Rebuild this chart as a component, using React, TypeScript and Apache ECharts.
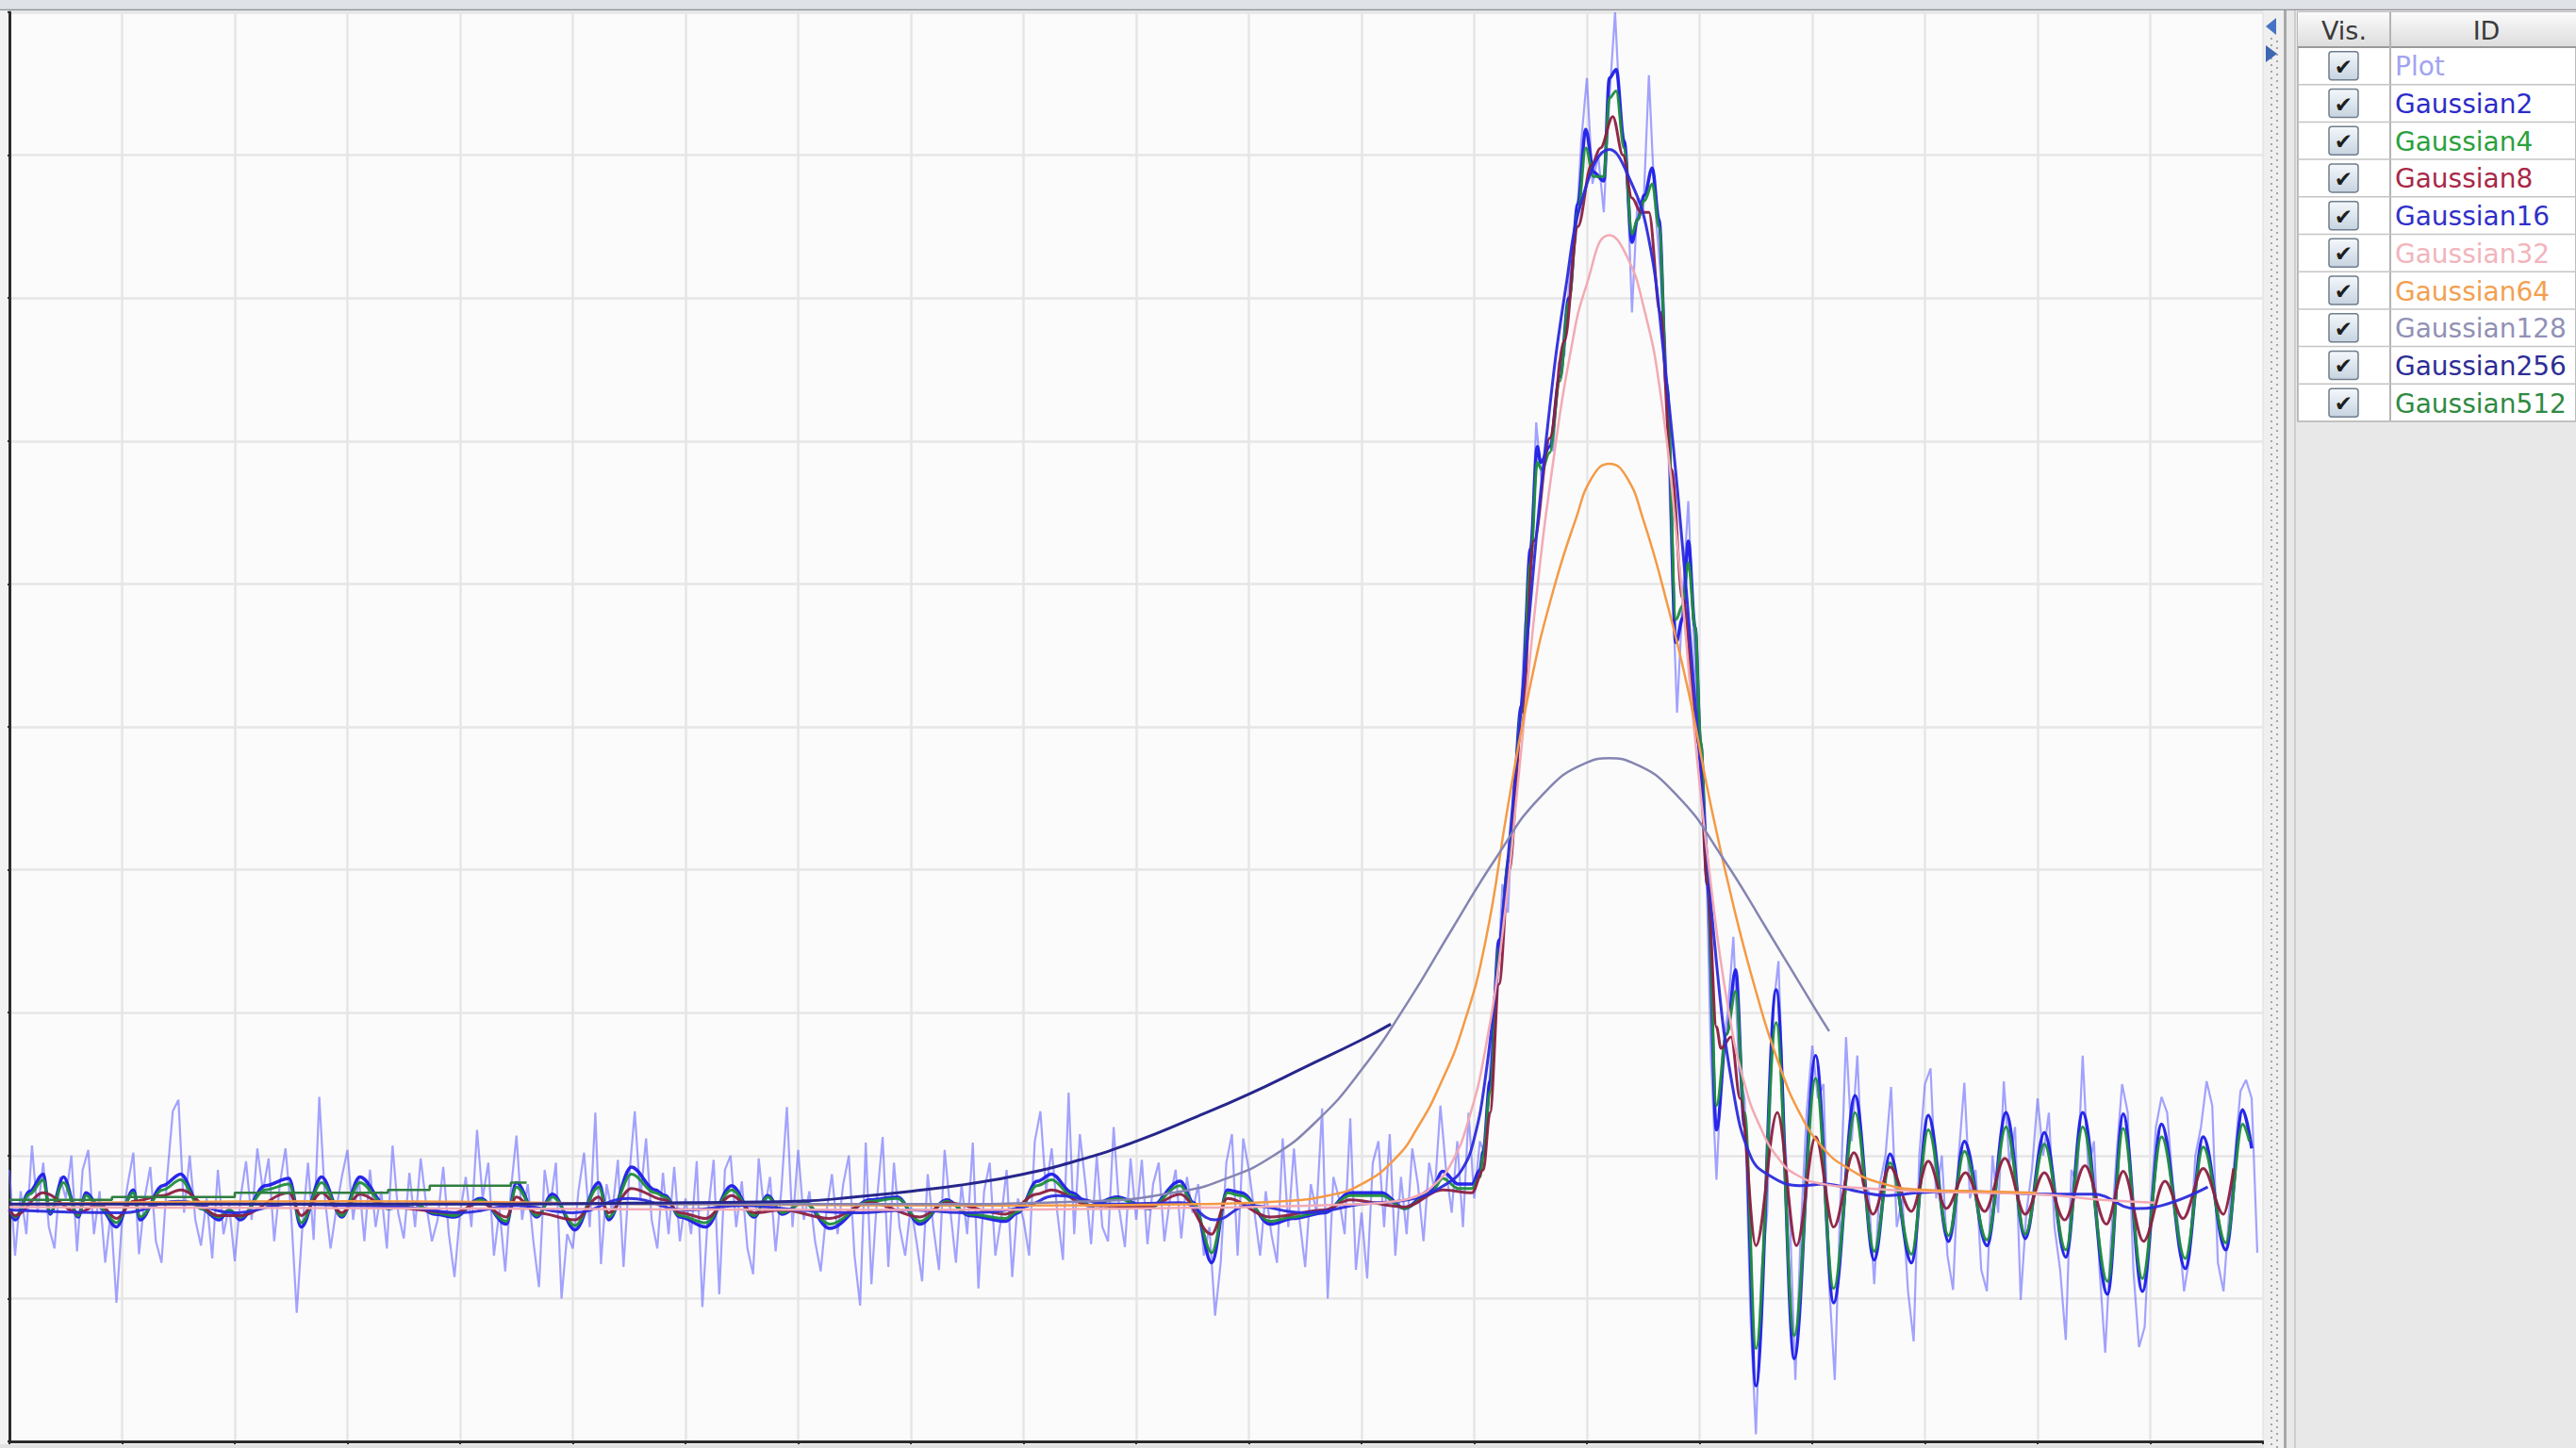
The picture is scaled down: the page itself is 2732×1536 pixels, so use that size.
import React, { useEffect, useRef } from "react";
import * as echarts from "echarts";

// ---------- data ----------
const SERIES_NAMES = [
  "Plot", "Gaussian2", "Gaussian4", "Gaussian8", "Gaussian16",
  "Gaussian32", "Gaussian64", "Gaussian128", "Gaussian256", "Gaussian512",
];
const TABLE_HEADERS = ["Vis.", "ID"];

// raw signal, sampled every PLOT_STEP along x
const PLOT_STEP = 0.05;
const PLOT_VALUES = [
  1.90, 1.30, 1.75, 1.45, 2.07, 1.60, 1.95, 1.50, 1.35, 1.85, 1.70, 2.00, 1.33, 1.90, 2.04, 1.45, 1.75, 1.25, 1.60, 0.97,
  1.55, 1.80, 2.02, 1.31, 1.70, 1.92, 1.40, 1.25, 1.85, 2.31, 2.39, 1.60, 2.00, 1.55, 1.37, 1.70, 1.28, 1.90, 1.45, 1.65,
  1.26, 1.70, 1.96, 1.55, 2.05, 1.75, 1.98, 1.40, 1.80, 2.05, 1.60, 0.90, 1.50, 1.95, 1.41, 2.41, 1.70, 1.35, 1.62, 1.85,
  2.04, 1.55, 1.85, 1.40, 1.90, 1.50, 1.75, 1.35, 2.07, 1.60, 1.42, 1.88, 1.50, 1.98, 1.65, 1.40, 1.55, 1.92, 1.45, 1.15,
  1.60, 1.85, 1.50, 2.18, 1.70, 1.95, 1.30, 1.62, 1.19, 1.75, 2.14, 1.55, 1.80, 1.40, 1.08, 1.90, 1.65, 1.95, 1.00, 1.45,
  1.35, 1.75, 2.02, 1.50, 2.30, 1.24, 1.80, 1.60, 1.97, 1.22, 1.85, 2.31, 1.70, 2.12, 1.55, 1.35, 1.88, 1.45, 1.92, 1.40,
  1.70, 1.45, 1.96, 0.94, 1.60, 1.97, 1.03, 1.90, 2.00, 1.50, 1.82, 1.35, 1.17, 1.98, 1.60, 1.85, 1.33, 1.75, 2.34, 1.50,
  2.04, 1.55, 1.75, 1.40, 1.19, 1.60, 1.87, 1.45, 1.80, 2.00, 1.30, 0.95, 2.09, 1.10, 1.70, 2.13, 1.22, 1.95, 1.50, 1.30,
  1.65, 1.40, 1.12, 1.87, 1.50, 1.20, 2.04, 1.62, 1.25, 1.80, 1.45, 2.09, 1.07, 1.75, 1.95, 1.30, 1.55, 1.90, 1.15, 1.70,
  1.55, 1.30, 2.10, 2.31, 1.75, 2.05, 1.60, 1.27, 2.44, 1.45, 2.15, 1.80, 1.38, 2.00, 1.50, 1.40, 2.20, 1.62, 1.36, 1.98,
  1.55, 1.97, 1.38, 1.80, 1.95, 1.40, 1.70, 1.90, 1.42, 1.85, 1.60, 1.80, 1.30, 1.50, 0.88, 1.25, 1.95, 2.15, 1.30, 2.12,
  1.90, 1.60, 1.30, 1.75, 1.45, 1.25, 2.12, 1.50, 2.05, 1.55, 1.22, 1.80, 1.60, 2.33, 1.00, 1.85, 1.70, 1.45, 2.26, 1.20,
  1.60, 1.14, 1.95, 2.10, 1.50, 2.15, 1.30, 1.85, 1.45, 2.05, 1.80, 1.40, 1.95, 1.75, 2.35, 1.90, 1.60, 2.10, 1.50, 2.30,
  1.70, 2.10, 2.00, 2.75, 3.10, 3.90, 3.70, 4.60, 4.90, 5.70, 6.10, 7.13, 6.70, 7.00, 6.93, 7.55, 7.60, 8.20, 8.40, 9.10,
  9.54, 8.80, 9.00, 8.60, 9.40, 10.00, 9.20, 9.00, 7.90, 8.70, 8.60, 9.56, 8.70, 8.20, 7.60, 6.20, 5.10, 5.90, 6.58, 5.60,
  4.80, 4.40, 2.70, 1.83, 2.70, 3.00, 3.53, 2.60, 2.40, 0.90, 0.05, 1.20, 1.60, 3.00, 3.36, 2.20, 1.60, 0.43, 1.50, 2.30,
  2.77, 2.40, 2.50, 1.10, 0.43, 1.70, 2.83, 2.10, 2.70, 1.80, 1.75, 1.10, 1.80, 2.00, 2.48, 1.50, 1.70, 1.05, 0.70, 2.00,
  2.50, 2.61, 1.70, 2.00, 1.30, 1.06, 2.00, 2.51, 1.70, 1.90, 1.20, 1.05, 2.00, 1.60, 2.52, 1.95, 2.20, 0.99, 1.60, 1.90,
  2.40, 2.00, 2.30, 1.50, 1.20, 0.71, 1.90, 1.80, 2.70, 1.90, 2.10, 1.20, 0.62, 1.40, 2.00, 2.50, 2.30, 1.20, 0.66, 0.80,
  1.60, 2.20, 2.41, 2.30, 1.80, 1.50, 1.05, 1.30, 2.00, 2.20, 2.52, 2.35, 1.25, 1.05, 1.60, 2.00, 2.45, 2.53, 2.40, 1.32,
];

const GAUSSIAN2 = [
  [0, 1.62], [0.05, 1.55], [0.18, 1.75], [0.3, 1.87], [0.36, 1.59], [0.48, 1.85], [0.61, 1.57], [0.68, 1.74], [0.8, 1.64],
  [0.95, 1.5], [1.1, 1.76], [1.16, 1.55], [1.36, 1.79], [1.52, 1.87], [1.7, 1.63], [1.86, 1.55], [1.95, 1.62], [2.05, 1.55],
  [2.27, 1.79], [2.48, 1.84], [2.59, 1.5], [2.77, 1.85], [2.95, 1.57], [3.11, 1.85], [3.36, 1.63], [3.6, 1.66], [3.77, 1.59],
  [3.95, 1.57], [4.18, 1.7], [4.41, 1.52], [4.5, 1.81], [4.68, 1.57], [4.82, 1.73], [5.02, 1.48], [5.23, 1.81], [5.32, 1.55],
  [5.52, 1.92], [5.73, 1.76], [5.82, 1.72], [5.95, 1.57], [6.18, 1.5], [6.41, 1.79], [6.61, 1.57], [6.73, 1.72], [6.86, 1.59],
  [7.05, 1.68], [7.28, 1.49], [7.64, 1.69], [7.88, 1.71], [8.08, 1.52], [8.32, 1.69], [8.52, 1.58], [8.84, 1.54], [8.95, 1.6],
  [9.12, 1.82], [9.25, 1.87], [9.43, 1.74], [9.59, 1.65], [9.83, 1.71], [10.11, 1.63], [10.39, 1.82], [10.51, 1.67],
  [10.67, 1.25], [10.81, 1.76], [10.93, 1.74], [11.19, 1.52], [11.39, 1.56], [11.67, 1.6], [11.9, 1.74], [12.18, 1.74],
  [12.38, 1.63], [12.62, 1.76], [12.72, 1.89], [12.86, 1.8], [12.98, 1.8], [13.05, 1.9], [13.08, 2.03], [13.14, 2.52],
  [13.22, 3.51], [13.31, 4.06], [13.42, 5.15], [13.5, 6.25], [13.56, 6.96], [13.59, 6.85], [13.67, 6.96], [13.76, 7.45],
  [13.84, 8.0], [13.92, 8.66], [13.99, 9.18], [14.06, 8.88], [14.15, 8.82], [14.2, 9.54], [14.26, 9.6], [14.33, 9.1],
  [14.4, 8.39], [14.45, 8.55], [14.51, 8.72], [14.58, 8.91], [14.64, 8.55], [14.71, 7.35], [14.79, 5.59], [14.85, 5.76],
  [14.9, 6.3], [14.96, 5.7], [15.01, 4.88], [15.07, 3.89], [15.15, 2.18], [15.24, 2.85], [15.32, 3.3], [15.4, 2.2],
  [15.5, 0.39], [15.68, 3.16], [15.84, 0.58], [16.03, 2.7], [16.19, 0.97], [16.38, 2.42], [16.55, 1.27], [16.69, 2.01],
  [16.88, 1.25], [17.03, 2.28], [17.21, 1.4], [17.35, 2.1], [17.55, 1.37], [17.72, 2.3], [17.89, 1.42], [18.06, 2.16],
  [18.25, 1.29], [18.4, 2.3], [18.62, 1.03], [18.76, 2.29], [18.93, 1.05], [19.1, 2.22], [19.31, 1.21], [19.47, 2.13],
  [19.67, 1.34], [19.82, 2.32], [19.9, 2.05],
];

const GAUSSIAN4 = [
  [0, 1.62], [0.05, 1.57], [0.18, 1.73], [0.3, 1.83], [0.36, 1.6], [0.48, 1.81], [0.61, 1.58], [0.68, 1.72], [0.8, 1.64],
  [0.95, 1.53], [1.1, 1.74], [1.16, 1.57], [1.36, 1.76], [1.52, 1.83], [1.7, 1.63], [1.86, 1.57], [1.95, 1.62], [2.05, 1.57],
  [2.27, 1.76], [2.48, 1.8], [2.59, 1.53], [2.77, 1.81], [2.95, 1.58], [3.11, 1.81], [3.36, 1.63], [3.6, 1.66], [3.77, 1.6],
  [3.95, 1.58], [4.18, 1.69], [4.41, 1.54], [4.5, 1.78], [4.68, 1.58], [4.82, 1.71], [5.02, 1.51], [5.23, 1.78], [5.32, 1.57],
  [5.52, 1.87], [5.73, 1.74], [5.82, 1.71], [5.95, 1.58], [6.18, 1.53], [6.41, 1.76], [6.61, 1.58], [6.73, 1.71], [6.86, 1.6],
  [7.05, 1.67], [7.28, 1.52], [7.64, 1.68], [7.88, 1.7], [8.08, 1.54], [8.32, 1.68], [8.52, 1.59], [8.84, 1.56], [8.95, 1.61],
  [9.12, 1.79], [9.25, 1.83], [9.43, 1.72], [9.59, 1.65], [9.83, 1.7], [10.11, 1.63], [10.39, 1.79], [10.51, 1.66],
  [10.67, 1.32], [10.81, 1.74], [10.93, 1.72], [11.19, 1.54], [11.39, 1.57], [11.67, 1.61], [11.9, 1.72], [12.18, 1.72],
  [12.38, 1.63], [12.62, 1.74], [12.72, 1.84], [12.86, 1.77], [12.98, 1.77], [13.05, 1.85], [13.08, 2.0], [13.14, 2.45],
  [13.22, 3.45], [13.31, 4.1], [13.42, 5.1], [13.5, 6.15], [13.56, 6.85], [13.6, 6.8], [13.67, 6.92], [13.76, 7.42],
  [13.84, 7.98], [13.92, 8.6], [13.99, 9.05], [14.06, 8.85], [14.15, 8.85], [14.2, 9.4], [14.26, 9.45], [14.33, 9.05],
  [14.4, 8.45], [14.45, 8.55], [14.51, 8.68], [14.58, 8.8], [14.64, 8.5], [14.71, 7.4], [14.79, 5.75], [14.85, 5.85],
  [14.9, 6.15], [14.96, 5.7], [15.01, 4.9], [15.07, 3.9], [15.15, 2.35], [15.24, 2.85], [15.32, 3.15], [15.4, 2.3],
  [15.5, 0.65], [15.68, 2.93], [15.84, 0.74], [16.03, 2.54], [16.19, 1.07], [16.38, 2.3], [16.55, 1.33], [16.69, 1.95],
  [16.88, 1.31], [17.03, 2.18], [17.21, 1.44], [17.35, 2.03], [17.55, 1.41], [17.72, 2.2], [17.89, 1.45], [18.06, 2.08],
  [18.25, 1.34], [18.4, 2.2], [18.62, 1.12], [18.76, 2.19], [18.93, 1.14], [19.1, 2.13], [19.31, 1.28], [19.47, 2.06],
  [19.67, 1.39], [19.82, 2.22], [19.88, 2.1],
];

const GAUSSIAN8 = [
  [0, 1.62], [0.05, 1.58], [0.3, 1.74], [0.61, 1.6], [0.8, 1.66], [0.95, 1.56], [1.1, 1.68], [1.36, 1.72], [1.52, 1.76],
  [1.86, 1.58], [2.05, 1.58], [2.48, 1.74], [2.59, 1.58], [2.77, 1.74], [2.95, 1.6], [3.11, 1.73], [3.36, 1.64], [3.95, 1.6],
  [4.18, 1.67], [4.41, 1.57], [4.5, 1.71], [4.68, 1.6], [5.02, 1.55], [5.23, 1.71], [5.32, 1.6], [5.52, 1.77], [5.82, 1.69],
  [5.95, 1.6], [6.18, 1.56], [6.41, 1.72], [6.61, 1.6], [6.86, 1.62], [7.28, 1.56], [7.64, 1.67], [8.08, 1.57], [8.32, 1.67],
  [8.84, 1.59], [9.12, 1.73], [9.25, 1.76], [9.59, 1.65], [10.11, 1.64], [10.39, 1.73], [10.67, 1.45], [10.81, 1.7],
  [11.19, 1.57], [11.67, 1.62], [11.9, 1.69], [12.38, 1.64], [12.72, 1.76], [12.98, 1.74], [13.08, 1.9], [13.14, 2.3],
  [13.22, 3.2], [13.31, 4.0], [13.42, 5.0], [13.53, 6.3], [13.67, 7.02], [13.8, 7.7], [13.92, 8.5], [14.04, 8.93],
  [14.12, 9.05], [14.23, 9.27], [14.32, 9.0], [14.4, 8.7], [14.48, 8.6], [14.55, 8.6], [14.65, 7.9], [14.75, 6.8],
  [14.85, 5.9], [14.99, 4.88], [15.07, 3.9], [15.15, 2.9], [15.19, 2.75], [15.28, 2.83], [15.36, 2.4], [15.5, 1.37],
  [15.69, 2.3], [15.86, 1.37], [16.03, 2.13], [16.19, 1.5], [16.37, 2.02], [16.54, 1.59], [16.69, 1.92], [16.88, 1.61],
  [17.03, 1.96], [17.19, 1.63], [17.36, 1.88], [17.53, 1.61], [17.71, 1.98], [17.89, 1.59], [18.06, 1.88], [18.24, 1.55],
  [18.42, 1.93], [18.61, 1.52], [18.76, 1.89], [18.94, 1.4], [19.13, 1.82], [19.29, 1.56], [19.47, 1.91], [19.65, 1.59],
  [19.74, 1.91],
];

const GAUSSIAN16 = [
  [0, 1.62], [1.0, 1.6], [1.5, 1.68], [2.0, 1.6], [2.5, 1.66], [3.0, 1.65], [3.5, 1.64], [4.0, 1.6], [4.5, 1.65], [5.0, 1.6],
  [5.5, 1.7], [6.0, 1.62], [6.5, 1.65], [7.0, 1.62], [7.5, 1.6], [8.0, 1.62], [8.5, 1.6], [9.0, 1.64], [9.3, 1.72],
  [9.8, 1.66], [10.4, 1.67], [10.7, 1.55], [11.0, 1.65], [11.5, 1.6], [12.0, 1.66], [12.47, 1.7], [12.75, 1.8],
  [12.89, 1.9], [13.0, 2.12], [13.1, 2.55], [13.2, 3.25], [13.31, 4.17], [13.48, 5.7], [13.64, 7.02], [13.81, 8.06],
  [13.98, 8.75], [14.2, 9.04], [14.37, 8.85], [14.54, 8.45], [14.68, 7.62], [14.85, 6.25], [14.99, 4.88], [15.15, 3.35],
  [15.3, 2.45], [15.45, 2.0], [15.6, 1.87], [15.89, 1.79], [16.11, 1.8], [16.4, 1.75], [16.67, 1.72], [16.94, 1.74],
  [17.3, 1.75], [17.7, 1.74], [18.1, 1.73], [18.49, 1.73], [18.87, 1.63], [19.1, 1.65], [19.51, 1.78],
];

const GAUSSIAN32 = [
  [0, 1.64], [4, 1.63], [8, 1.62], [11, 1.64], [12, 1.66], [12.3, 1.68], [12.5, 1.72], [12.65, 1.8], [12.8, 1.95],
  [12.95, 2.25], [13.1, 2.75], [13.25, 3.55], [13.4, 4.7], [13.55, 5.9], [13.7, 6.85], [13.85, 7.6], [14.0, 8.1],
  [14.2, 8.44], [14.35, 8.3], [14.5, 7.95], [14.65, 7.35], [14.8, 6.3], [14.95, 5.0], [15.1, 3.9], [15.25, 3.05],
  [15.4, 2.5], [15.55, 2.18], [15.7, 1.98], [15.85, 1.87], [16.1, 1.8], [16.5, 1.77], [17, 1.75], [17.5, 1.74],
  [18, 1.73], [18.57, 1.69], [19.04, 1.67],
];

const GAUSSIAN64 = [
  [0, 1.66], [3, 1.68], [6, 1.66], [9, 1.65], [10.5, 1.66], [11.3, 1.68], [11.7, 1.72], [12.0, 1.8], [12.3, 1.98],
  [12.5, 2.2], [12.7, 2.5], [12.9, 2.9], [13.1, 3.5], [13.3, 4.45], [13.5, 5.3], [13.7, 5.95], [13.9, 6.45],
  [14.05, 6.75], [14.2, 6.84], [14.35, 6.75], [14.5, 6.45], [14.7, 5.9], [14.9, 5.25], [15.1, 4.45], [15.3, 3.75],
  [15.5, 3.15], [15.7, 2.65], [15.9, 2.28], [16.1, 2.05], [16.3, 1.92], [16.6, 1.81], [17.0, 1.76], [17.5, 1.75],
  [17.99, 1.74],
];

const GAUSSIAN128 = [
  [0, 1.66], [4, 1.66], [8, 1.66], [9.6, 1.68], [10.4, 1.75], [10.8, 1.84], [11.2, 1.99], [11.6, 2.24], [12.0, 2.6],
  [12.4, 3.06], [12.8, 3.58], [13.2, 4.09], [13.6, 4.52], [14.0, 4.75], [14.2, 4.78], [14.4, 4.75], [14.8, 4.52],
  [15.2, 4.09], [15.6, 3.58], [16.0, 3.06], [16.15, 2.87],
];

const GAUSSIAN256 = [
  [0, 1.66], [2, 1.66], [4, 1.66], [6, 1.67], [7.0, 1.68], [7.5, 1.71], [8.0, 1.75], [8.5, 1.8], [9.0, 1.87],
  [9.5, 1.97], [10.0, 2.1], [10.5, 2.26], [11.0, 2.43], [11.5, 2.62], [12.0, 2.81], [12.26, 2.92],
];

const GAUSSIAN512 = [
  [0, 1.69], [0.91, 1.71], [2.0, 1.74], [3.36, 1.76], [3.73, 1.79], [4.45, 1.81], [4.59, 1.81],
];

// ---------- styles ----------
const LINE_COLORS = ["#6a6aff", "#1c1ce8", "#1f8f3c", "#8c1f40", "#2b2bdc", "#f3aab4", "#f59a45", "#8585b3", "#26268c", "#2f7f40"];
const LABEL_COLORS = ["#a3a3f0", "#2c2cc8", "#2aa13c", "#a82848", "#3030c8", "#f2b4bc", "#f2a050", "#9191b5", "#2d2d95", "#2f8a42"];
const LINE_WIDTHS = [2.2, 3.5, 3, 3, 3, 2.5, 2.5, 2.5, 3, 2.5];
const LINE_OPACITY = [0.62, 0.95, 0.95, 0.95, 0.95, 1, 1, 1, 1, 1];
const LINE_SMOOTH = [false, 0.35, 0.35, 0.35, 0.45, 0.5, 0.5, 0.5, 0.5, false];

export default function App() {
  const ref = useRef<HTMLDivElement>(null);

  useEffect(() => {
    if (!ref.current) return;
    const chart = echarts.init(ref.current, null, { renderer: "svg" });

    const plotData = PLOT_VALUES.map((v, i) => [Number((i * PLOT_STEP).toFixed(2)), v]);
    const curves: any[] = [
      plotData, GAUSSIAN2, GAUSSIAN4, GAUSSIAN8, GAUSSIAN16,
      GAUSSIAN32, GAUSSIAN64, GAUSSIAN128, GAUSSIAN256, GAUSSIAN512,
    ];

    const series = curves.map((data, i) => {
      const s: any = {
        name: SERIES_NAMES[i],
        type: "line",
        data,
        symbol: "none",
        showSymbol: false,
        silent: true,
        smooth: LINE_SMOOTH[i],
        step: i === 9 ? "end" : false,
        lineStyle: { color: LINE_COLORS[i], width: LINE_WIDTHS[i], opacity: LINE_OPACITY[i] },
        itemStyle: { color: LINE_COLORS[i] },
      };
      if (i >= 1 && i <= 3) s.smoothMonotone = "x";
      return s;
    });

    const font = (size: number) => `${size}px "DejaVu Sans", "Noto Sans", sans-serif`;
    const g: any[] = [];
    const Z = 50;

    // window chrome: top strip, left strip, bottom strip
    g.push({ type: "rect", z: Z, shape: { x: 0, y: 0, width: 2732, height: 10 }, style: { fill: "#dfe2e6" } });
    g.push({ type: "line", z: Z, shape: { x1: 0, y1: 10.5, x2: 2732, y2: 10.5 }, style: { stroke: "#8e9196", lineWidth: 1.5 } });
    g.push({ type: "rect", z: Z, shape: { x: 0, y: 11, width: 8, height: 1525 }, style: { fill: "#f2f2f2" } });
    g.push({ type: "rect", z: Z, shape: { x: 0, y: 1532, width: 2401, height: 4 }, style: { fill: "#e2e2e2" } });

    // right panel
    g.push({ type: "rect", z: Z, shape: { x: 2401, y: 11, width: 331, height: 1525 }, style: { fill: "#e8e8e8" } });
    g.push({ type: "rect", z: Z, shape: { x: 2401, y: 11, width: 21, height: 1525 }, style: { fill: "#efefef" } });
    g.push({ type: "line", z: Z + 1, shape: { x1: 2409, y1: 40, x2: 2409, y2: 1536 }, style: { stroke: "#a5a5a5", lineWidth: 2, lineDash: [2, 5] } });
    g.push({ type: "line", z: Z + 1, shape: { x1: 2415, y1: 43, x2: 2415, y2: 1536 }, style: { stroke: "#a5a5a5", lineWidth: 2, lineDash: [2, 5] } });
    g.push({ type: "line", z: Z + 1, shape: { x1: 2423.5, y1: 11, x2: 2423.5, y2: 1536 }, style: { stroke: "#a9a9a9", lineWidth: 3 } });
    g.push({ type: "line", z: Z + 1, shape: { x1: 2434, y1: 11, x2: 2434, y2: 1536 }, style: { stroke: "#c6c6c6", lineWidth: 1.5 } });
    g.push({ type: "polygon", z: Z + 2, shape: { points: [[2414, 19], [2414, 37], [2403, 28]] }, style: { fill: "#4673c4" } });
    g.push({ type: "polygon", z: Z + 2, shape: { points: [[2403, 48], [2403, 66], [2415, 57]] }, style: { fill: "#3d66b3" } });

    // table
    const tX = 2437, tW = 295, tTop = 13, hdrB = 50, rowH = 39.7, colX = 2535;
    const tBottom = hdrB + rowH * SERIES_NAMES.length;
    g.push({ type: "rect", z: Z + 1, shape: { x: tX, y: tTop, width: tW, height: tBottom - tTop }, style: { fill: "#ffffff", stroke: "#a8a8a8", lineWidth: 1.5 } });
    g.push({
      type: "rect", z: Z + 2, shape: { x: tX, y: tTop, width: tW, height: hdrB - tTop },
      style: {
        fill: new echarts.graphic.LinearGradient(0, 0, 0, 1, [
          { offset: 0, color: "#fbfbfb" }, { offset: 1, color: "#dcdcdc" },
        ]),
      },
    });
    g.push({ type: "line", z: Z + 3, shape: { x1: tX, y1: hdrB, x2: 2732, y2: hdrB }, style: { stroke: "#9a9a9a", lineWidth: 2 } });
    g.push({ type: "line", z: Z + 3, shape: { x1: colX, y1: tTop, x2: colX, y2: tBottom }, style: { stroke: "#b3b3b3", lineWidth: 2 } });
    g.push({ type: "text", z: Z + 4, x: (tX + colX) / 2, y: (tTop + hdrB) / 2 + 1, style: { text: TABLE_HEADERS[0], font: font(27), fill: "#3a3a3a", textAlign: "center", textVerticalAlign: "middle" } });
    g.push({ type: "text", z: Z + 4, x: 2637, y: (tTop + hdrB) / 2 + 1, style: { text: TABLE_HEADERS[1], font: font(27), fill: "#3a3a3a", textAlign: "center", textVerticalAlign: "middle" } });

    SERIES_NAMES.forEach((name, i) => {
      const top = hdrB + rowH * i;
      const cy = top + rowH / 2;
      g.push({ type: "line", z: Z + 3, shape: { x1: tX, y1: top + rowH, x2: 2732, y2: top + rowH }, style: { stroke: "#c4c4c4", lineWidth: 1.5 } });
      g.push({
        type: "rect", z: Z + 4, shape: { x: 2470, y: cy - 15, width: 31, height: 30, r: 3 },
        style: {
          fill: new echarts.graphic.LinearGradient(0, 0, 0, 1, [
            { offset: 0, color: "#f5f8fb" }, { offset: 1, color: "#c6d3e0" },
          ]),
          stroke: "#6f7d8c", lineWidth: 1.5,
        },
      });
      g.push({ type: "text", z: Z + 5, x: 2485.5, y: cy + 1, style: { text: "\u2714", font: font(23), fill: "#1e1e1e", textAlign: "center", textVerticalAlign: "middle" } });
      g.push({ type: "text", z: Z + 5, x: 2540, y: cy + 1, style: { text: name, font: font(28), fill: LABEL_COLORS[i], textAlign: "left", textVerticalAlign: "middle" } });
    });

    chart.setOption({
      animation: false,
      backgroundColor: "#fbfbfb",
      grid: { left: 10, top: 13, width: 2390, height: 1516, show: true, backgroundColor: "#fbfbfb", borderWidth: 0 },
      xAxis: {
        type: "value", min: 0, max: 20, interval: 1,
        axisLabel: { show: false },
        axisLine: { show: true, onZero: false, lineStyle: { color: "#2b2b2b", width: 3 } },
        axisTick: { show: true, length: 5, lineStyle: { color: "#2b2b2b", width: 2 } },
        splitLine: { show: true, lineStyle: { color: "#e6e6e6", width: 2.5 } },
      },
      yAxis: {
        type: "value", min: 0, max: 10, interval: 1,
        axisLabel: { show: false },
        axisLine: { show: true, onZero: false, lineStyle: { color: "#2b2b2b", width: 3 } },
        axisTick: { show: true, length: 5, lineStyle: { color: "#2b2b2b", width: 2 } },
        splitLine: { show: true, lineStyle: { color: "#e6e6e6", width: 2.5 } },
      },
      series,
      graphic: { elements: g },
    });

    return () => chart.dispose();
  }, []);

  return (
    <div
      ref={ref}
      style={{ position: "fixed", left: 0, top: 0, width: 2732, height: 1536, background: "#fbfbfb" }}
    />
  );
}
